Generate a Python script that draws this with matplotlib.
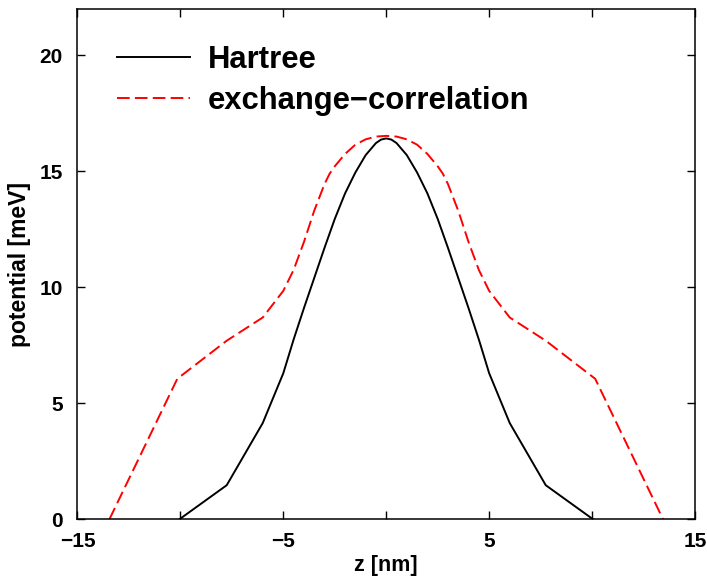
import numpy as np
import matplotlib
matplotlib.use("Agg")
import matplotlib.pyplot as plt

plt.rcParams['font.family'] = ['Liberation Sans', 'DejaVu Sans']
plt.rcParams['font.weight'] = 'bold'

# Hartree potential
z_h = [-10.05, -7.75, -6.0, -5.0, -4.5, -4.0, -3.5, -3.0, -2.5, -2.0, -1.5, -1.0, -0.5, -0.25, 0.0,
       0.25, 0.5, 1.0, 1.5, 2.0, 2.5, 3.0, 3.5, 4.0, 4.5, 5.0, 6.0, 7.75, 10.05]
v_h = [0.0, 1.47, 4.15, 6.3, 7.75, 9.1, 10.4, 11.7, 12.95, 14.05, 14.95, 15.7, 16.22, 16.37, 16.42,
       16.37, 16.22, 15.7, 14.95, 14.05, 12.95, 11.7, 10.4, 9.1, 7.75, 6.3, 4.15, 1.47, 0.0]

# exchange-correlation potential
z_xc = [-13.45, -10.15, -7.75, -6.0, -5.0, -4.5, -4.0, -3.5, -3.0, -2.75, -2.5, -2.0, -1.5, -1.0, -0.5, 0.0,
        0.5, 1.0, 1.5, 2.0, 2.5, 2.75, 3.0, 3.5, 4.0, 4.5, 5.0, 6.0, 7.75, 10.15, 13.45]
v_xc = [0.0, 6.06, 7.7, 8.7, 9.85, 10.75, 11.95, 13.3, 14.45, 14.9, 15.22, 15.75, 16.15, 16.38, 16.5, 16.53,
        16.5, 16.38, 16.15, 15.75, 15.22, 14.9, 14.45, 13.3, 11.95, 10.75, 9.85, 8.7, 7.7, 6.06, 0.0]

fig = plt.figure(figsize=(7.07, 5.87), dpi=100)
ax = fig.add_axes([0.1096, 0.1153, 0.8734, 0.8694])

ax.plot(z_h, v_h, color='black', lw=1.4, label='Hartree')
ax.plot(z_xc, v_xc, color='red', lw=1.4, dashes=(6.5, 2.7), label='exchange\u2212correlation')

ax.set_xlim(-15, 15)
ax.set_ylim(0, 22)
ax.set_xticks([-15, -5, 5, 15])
ax.set_xticks([-10, 0, 10], minor=True)
ax.set_yticks([0, 5, 10, 15, 20])
ax.tick_params(which='both', direction='in', top=True, right=True, length=5.5, width=1.0,
               labelsize=15)
ax.tick_params(axis='x', pad=9)
ax.tick_params(axis='y', pad=10.5)
for s in ax.spines.values():
    s.set_linewidth(1.1)

ax.set_xlabel('z [nm]', fontsize=15.5, fontweight='bold', labelpad=3)
ax.set_ylabel('potential [meV]', fontsize=16.5, fontweight='bold', labelpad=6)

leg = ax.legend(loc='upper left', bbox_to_anchor=(0.064, 0.929), frameon=False,
                fontsize=22.3, handlelength=2.35, handletextpad=0.58, labelspacing=0.34,
                borderpad=0, borderaxespad=0)

fig.savefig('out.png', dpi=100)
